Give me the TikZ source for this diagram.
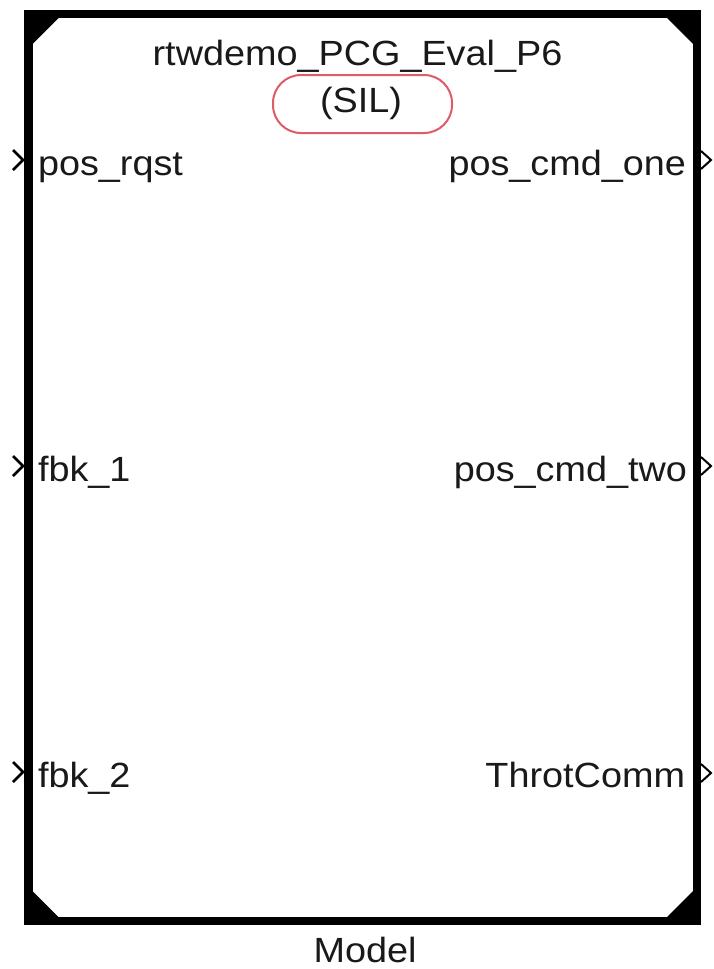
\documentclass[tikz,border=0pt]{standalone}
\usepackage{fontspec}
\newfontfamily\lblfont[FakeStretch=1.08]{Liberation Sans}
\definecolor{silred}{RGB}{222,92,104}
\definecolor{txt}{RGB}{25,25,25}
\tikzset{
  lbl/.style={font=\lblfont\fontsize{35}{40}\selectfont, text=txt, inner sep=0pt, outer sep=0pt},
  portmark/.style={draw=black, line width=2.8pt, line join=miter},
  corner/.style={fill=black, draw=none},
}
\begin{document}
\begin{tikzpicture}[x=1pt,y=-1pt]
\useasboundingbox (0,0) rectangle (713,969);
\fill[white] (0,0) rectangle (713,969);
% block
\node[draw=black, line width=8.5pt, minimum width=668.5pt, minimum height=907pt, inner sep=0pt, outer sep=0pt] (blk) at (362.75,467.5) {};
% corner triangles
\fill[corner] (blk.north west) -- ++(34,0) -- ++(-34,34) -- cycle;
\fill[corner] (blk.north east) -- ++(-34,0) -- ++(34,34) -- cycle;
\fill[corner] (blk.south west) -- ++(34,0) -- ++(-34,-34) -- cycle;
\fill[corner] (blk.south east) -- ++(-34,0) -- ++(34,-34) -- cycle;
% title and SIL badge
\node[lbl, anchor=base] (title) at (357.5,65) {rtwdemo\_PCG\_Eval\_P6};
\node[draw=silred, line width=2pt, rounded corners=28pt, minimum width=179pt, minimum height=58pt, inner sep=0pt] (silbox) at (362.5,104) {};
\node[lbl, anchor=base] (sil) at (361,112) {(SIL)};
% input ports
\coordinate (in1) at (23,160);
\coordinate (in2) at (23,466);
\coordinate (in3) at (23,772);
\foreach \p in {in1,in2,in3}{
  \draw[portmark] ([shift={(-10,-10)}]\p) -- (\p) -- ([shift={(-10,10)}]\p);
}
\node[lbl, anchor=base west] (l1) at (38,175) {pos\_rqst};
\node[lbl, anchor=base west] (l2) at (38,481) {fbk\_1};
\node[lbl, anchor=base west] (l3) at (38,787) {fbk\_2};
% output ports
\coordinate (out1) at (711,160);
\coordinate (out2) at (711,466);
\coordinate (out3) at (711,773);
\foreach \p in {out1,out2,out3}{
  \draw[portmark, line width=2pt] ([shift={(-10,-9)}]\p) -- (\p) -- ([shift={(-10,9)}]\p);
}
\node[lbl, anchor=base east] (r1) at (686,175) {pos\_cmd\_one};
\node[lbl, anchor=base east] (r2) at (687,481) {pos\_cmd\_two};
\node[lbl, anchor=base east] (r3) at (685,787) {ThrotComm};
% caption
\node[lbl, anchor=base] (cap) at (365,962) {Model};
\end{tikzpicture}
\end{document}
